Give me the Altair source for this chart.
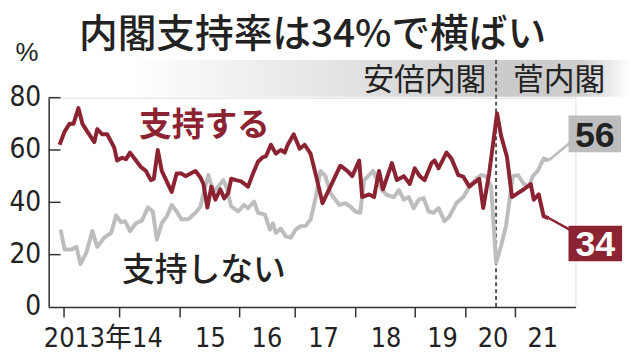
import altair as alt
import pandas as pd

# ---- data (survey sequence position, percent) ----
support_t = [2.2, 3.2, 4.2, 5.0, 6.0, 6.8, 7.8, 9.2, 9.8, 10.8,
             11.8, 13.2, 13.8, 14.8, 15.6, 16.4, 17.6, 18.6, 19.6, 20.6,
             21.2, 22.0, 22.8, 23.8, 24.8, 25.8, 26.8, 27.6, 28.6, 29.6,
             30.6, 31.2, 32.0, 32.8, 33.6, 34.6, 35.4, 36.2, 36.8, 37.8,
             38.8, 40.2, 41.2, 42.2, 43.2, 43.8, 44.8, 45.8, 46.8, 47.6,
             48.2, 49.4, 50.6, 51.6, 52.8, 53.8, 55.2, 56.8, 58.8, 60.2,
             61.2, 62.6, 63.2, 64.6, 65.6, 66.6, 67.4, 69.2, 70.2, 71.6,
             72.8, 73.8, 74.8, 75.8, 77.2, 77.8, 78.6, 80.2, 81.2, 82.6,
             83.6, 84.8, 86.8, 87.6, 88.8, 90.4, 91.2, 92.4, 93.4, 94.6,
             95.8, 97.2, 97.8, 98.8, 99.8, 100.8]
support_v = [62, 67, 70, 70, 76, 70, 67, 63, 68, 66,
             66, 61, 56, 57, 56.5, 59, 56, 53.5, 52, 48.5,
             49, 60, 52, 48, 44, 51, 51, 50, 51, 52,
             49.5, 47, 38, 46, 41, 45, 41.5, 43.5, 49, 48.5,
             48, 46, 51, 55.5, 57.3, 57.6, 62, 58.6, 60, 59,
             62, 66, 60.5, 62, 58.6, 51, 39.7, 46, 54, 52,
             50, 56, 42, 43, 42, 52, 45, 55, 48.5, 50,
             47, 53, 50, 48.5, 55, 56, 53, 59, 56.7, 50.4,
             49.8, 46, 49, 37.8, 51, 74, 65.5, 57.3, 42, 43.5,
             45, 47, 41, 43, 34.6, 34]

nonsupport_t = [2.4, 3.2, 4.6, 5.6, 6.4, 7.6, 8.8, 9.8, 11.2, 12.6,
                13.6, 14.6, 15.4, 16.4, 17.6, 18.8, 20.0, 21.0, 21.8, 22.8,
                23.8, 24.8, 25.8, 26.8, 28.2, 29.6, 30.6, 31.4, 32.2, 33.2,
                34.2, 35.2, 35.8, 36.8, 38.2, 39.4, 40.2, 41.4, 42.2, 43.6,
                44.6, 45.2, 45.8, 46.8, 47.8, 48.8, 49.8, 50.8, 51.8, 52.8,
                53.8, 54.8, 55.8, 56.8, 58.6, 59.8, 60.8, 61.8, 62.8, 63.6,
                64.6, 65.4, 66.2, 67.2, 68.2, 69.6, 70.6, 71.6, 72.6, 73.6,
                74.6, 75.6, 76.6, 77.6, 78.6, 79.8, 80.8, 82.2, 83.6, 84.8,
                86.2, 87.2, 88.2, 89.2, 90.2, 91.2, 92.2, 93.6, 94.6, 95.8,
                96.8, 97.6, 98.6, 99.8, 100.8]
nonsupport_v = [29.6, 22, 22, 23, 16.4, 20.8, 29, 23, 26.5, 28.3,
                35, 32.4, 32.8, 29, 32, 33, 38, 36.5, 25.8, 32,
                34.6, 39, 36.5, 33.4, 33.6, 36, 38.4, 45, 50.4, 44,
                46, 48.5, 46, 38.4, 36.5, 39, 37.8, 40.3, 36, 35.3,
                29.6, 32, 28.3, 30, 27, 26.5, 29.6, 30.9, 31, 33.4,
                41.5, 52, 50, 43.5, 39, 39.7, 38.4, 36.5, 36, 48.5,
                50.4, 52, 48.5, 44.7, 42.8, 42, 44.7, 41, 42, 37.8,
                41, 41.6, 36.5, 36, 37.8, 32.8, 34.6, 39.7, 42, 46,
                49, 50.4, 50, 46, 17, 23.3, 31, 50, 50.4, 47,
                46, 50, 52, 56.7, 56]

year_tick_t = [3, 14.2, 26.4, 38.4, 49.6, 61.8, 73.8, 84, 94]
year_label_t = [7.9, 19.9, 32.6, 44, 55.4, 68, 79.4, 89.6, 99.6]
year_labels = ["2013年", "14", "15", "16", "17", "18", "19", "20", "21"]
y_tick_values = [0, 20, 40, 60, 80]
cabinet_change_t = [90.2]
latest_support = [34]
latest_nonsupport = [56]

# ---- styling ----
W, H = 531, 211
RED = "#8c2332"
GRAY = "#bdbdbd"
INK = "#222222"
JP = "Noto Sans CJK JP"
NUM = "DejaVu Sans Condensed, DejaVu Sans, sans-serif"

xs = alt.Scale(domain=[0, 106.2], nice=False, zero=False)
ys = alt.Scale(domain=[0, 80], nice=False)

one = pd.DataFrame({"k": [0]})

sup_df = pd.DataFrame({"t": support_t, "v": support_v})
non_df = pd.DataFrame({"t": nonsupport_t, "v": nonsupport_v})
ticks_df = pd.DataFrame({"t": year_tick_t})
lab_df = pd.DataFrame({"t": year_label_t, "lab": year_labels})
ytick_df = pd.DataFrame({"v": [v for v in y_tick_values if v > 0]})
chg_df = pd.DataFrame({"t": cabinet_change_t})
end_sup = pd.DataFrame({"t": [support_t[-1]], "v": [support_v[-1]], "lab": [str(latest_support[0])]})
end_non = pd.DataFrame({"t": [nonsupport_t[-1]], "v": [nonsupport_v[-1]], "lab": [str(latest_nonsupport[0])]})

banner = alt.Chart(one).mark_rect(
    fill=alt.LinearGradient(
        gradient="linear", x1=0, x2=1, y1=0, y2=0,
        stops=[alt.GradientStop(color="#ffffff", offset=0),
               alt.GradientStop(color="#dedede", offset=0.5),
               alt.GradientStop(color="#cbcbcb", offset=0.75),
               alt.GradientStop(color="#cdcdcd", offset=0.9),
               alt.GradientStop(color="#ffffff", offset=1)])
).encode(x=alt.value(81), x2=alt.value(586), y=alt.value(-38), y2=alt.value(-1))

axes_base = alt.Chart(ticks_df).mark_rule(opacity=0).encode(
    x=alt.X("t:Q", scale=xs, axis=alt.Axis(
        values=year_tick_t, labels=False, title=None, grid=False,
        tickSize=10, tickColor="#333", tickWidth=1.5,
        domainColor="#333", domainWidth=1.5)),
    y=alt.Y("v:Q", scale=ys, axis=alt.Axis(
        values=y_tick_values, title=None, grid=False, ticks=False, tickSize=0,
        labelFont=NUM, labelFontSize=28, labelColor=INK, labelPadding=8,
        domainColor="#333", domainWidth=1.5)),
).transform_calculate(v="0")

ytick_rules = alt.Chart(ytick_df).mark_rule(color="#333", strokeWidth=1.5).encode(
    y=alt.Y("v:Q", scale=ys), x=alt.value(0), x2=alt.value(12))

change_line = alt.Chart(chg_df).mark_rule(
    color="#555", strokeWidth=2, strokeDash=[4, 3]).encode(
    x=alt.X("t:Q", scale=xs), y=alt.value(-38), y2=alt.value(H))

non_line = alt.Chart(non_df).mark_line(color=GRAY, strokeWidth=4, strokeJoin="round").encode(
    x=alt.X("t:Q", scale=xs), y=alt.Y("v:Q", scale=ys))
sup_line = alt.Chart(sup_df).mark_line(color=RED, strokeWidth=4, strokeJoin="round").encode(
    x=alt.X("t:Q", scale=xs), y=alt.Y("v:Q", scale=ys))

year_text = alt.Chart(lab_df).mark_text(
    font=NUM + ", " + JP, fontSize=27, color=INK, align="center", baseline="alphabetic").encode(
    x=alt.X("t:Q", scale=xs), y=alt.value(251), text="lab:N")

non_conn = alt.Chart(end_non).mark_rule(color=GRAY, strokeWidth=2.5).encode(
    x=alt.X("t:Q", scale=xs), y=alt.Y("v:Q", scale=ys), x2=alt.value(526), y2=alt.value(45))
sup_conn = alt.Chart(end_sup).mark_rule(color=RED, strokeWidth=2.5).encode(
    x=alt.X("t:Q", scale=xs), y=alt.Y("v:Q", scale=ys), x2=alt.value(527), y2=alt.value(134))

non_box = alt.Chart(end_non).mark_rect(color=GRAY).encode(
    x=alt.value(524), x2=alt.value(577), y=alt.value(18), y2=alt.value(55))
sup_box = alt.Chart(end_sup).mark_rect(color=RED).encode(
    x=alt.value(524), x2=alt.value(578), y=alt.value(129), y2=alt.value(165))
non_num = alt.Chart(end_non).mark_text(
    font="Liberation Sans, Arial, sans-serif", fontSize=36, fontWeight="bold", color=INK,
    align="center", baseline="alphabetic").encode(
    x=alt.value(550.5), y=alt.value(49.5), text="lab:N")
sup_num = alt.Chart(end_sup).mark_text(
    font="Liberation Sans, Arial, sans-serif", fontSize=36, fontWeight="bold", color="white",
    align="center", baseline="alphabetic").encode(
    x=alt.value(551), y=alt.value(160), text="lab:N")

def label(txt, x, y, size, color=INK, weight="normal", align="left", font=JP):
    return alt.Chart(one).mark_text(
        text=txt, font=font, fontSize=size, fontWeight=weight, color=color,
        align=align, baseline="alphabetic").encode(x=alt.value(x), y=alt.value(y))

title = label("内閣支持率は34%で横ばい", 266, -51, 39, weight=500, align="center")
pct = label("%", -22, -37, 26, align="center", font="Liberation Sans, Arial, sans-serif")
abe = label("安倍内閣", 441, -8, 31, align="right")
suga = label("菅内閣", 468, -8, 31, align="left")
sup_name = label("支持する", 91, 39, 33, color=RED, weight="bold")
non_name = label("支持しない", 74, 185, 33, weight=500)

chart = alt.layer(
    banner, axes_base, ytick_rules, change_line, non_line, sup_line, year_text,
    non_conn, sup_conn, non_box, sup_box, non_num, sup_num,
    title, pct, abe, suga, sup_name, non_name
).properties(
    width=W, height=H,
    padding={"left": 41, "top": 89, "right": 55, "bottom": 45},
    autosize=alt.AutoSizeParams(type="none"),
).configure_view(stroke=None).configure(background="white")

chart.save("out.html", embed_options={"renderer": "svg", "actions": False})
